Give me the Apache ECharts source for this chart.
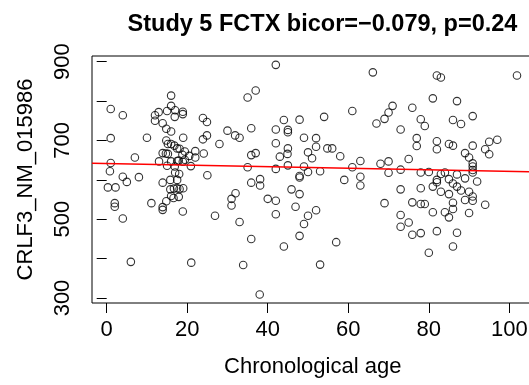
<!DOCTYPE html>
<html>
<head>
<meta charset="utf-8">
<script src="https://cdn.jsdelivr.net/npm/echarts@6/dist/echarts.min.js"></script>
<style>
html,body{margin:0;padding:0;background:#fff;}
#chart{width:529px;height:385px;}
</style>
</head>
<body>
<div id="chart"></div>
<script>
// ---- data ----
const ages = [1.0,1.0,1.0,0.8,0.3,2.2,2.0,2.0,4.0,4.0,5.0,4.0,6.0,7.0,8.0,10.0,11.1,12.0,12.0,12.9,13.0,13.9,13.9,13.9,13.9,13.9,14.7,15.0,14.8,14.8,15.0,14.8,15.2,15.2,16.0,16.0,16.0,16.0,16.0,15.8,15.8,16.0,16.8,16.9,17.0,16.9,17.0,16.7,16.6,17.5,17.5,17.5,17.5,17.9,18.1,17.9,18.0,18.1,18.9,18.9,19.0,18.8,18.9,19.0,18.9,19.4,19.4,20.9,20.5,21.0,22.0,22.0,23.9,23.9,24.1,24.9,24.9,25.0,26.9,28.0,30.0,31.9,33.0,31.0,31.0,32.0,33.0,33.9,35.0,35.0,35.9,35.9,35.9,35.9,37.0,37.0,38.1,38.1,38.0,40.0,42.0,42.0,42.0,42.0,42.0,42.0,43.0,44.0,44.0,45.0,45.0,45.0,44.9,45.0,45.9,46.9,47.9,47.9,47.9,47.9,47.9,49.0,49.0,49.0,50.0,50.0,50.0,51.0,52.0,52.0,52.0,53.0,53.0,54.0,54.8,56.0,57.0,58.0,59.0,61.0,61.0,63.0,63.0,63.0,66.1,67.0,68.0,69.0,69.0,70.0,70.0,70.0,71.0,73.0,73.0,73.0,73.0,73.0,75.0,75.0,75.9,75.9,75.9,77.0,77.0,78.0,78.0,78.0,78.0,78.0,79.0,79.0,80.0,80.0,81.0,81.0,81.0,82.0,82.0,82.0,82.0,82.0,82.0,83.0,83.0,83.0,84.0,84.0,85.0,85.0,85.0,85.0,86.0,86.0,86.0,86.0,86.0,86.0,87.0,87.0,87.0,87.0,88.0,88.0,89.0,89.0,89.0,90.0,90.0,90.0,90.9,90.9,90.9,90.9,90.9,90.9,90.9,90.9,92.0,94.0,94.0,95.0,95.0,97.0,101.9];
const values = [780,706,643,622,581,581,541,532,764,608,595,502,392,657,607,707,541,764,750,772,647,744,668,593,531,524,667,775,730,700,636,546,691,666,814,788,723,691,647,600,576,559,687,760,777,634,619,578,554,680,648,600,579,557,679,649,615,577,773,767,707,664,646,579,520,672,651,635,661,390,673,657,757,703,667,747,713,612,509,691,725,713,707,552,535,566,493,384,809,632,731,663,593,450,827,668,602,586,309,552,892,728,693,628,547,513,659,752,431,727,721,680,666,637,576,532,753,610,606,564,458,707,634,488,509,670,620,655,706,684,523,622,385,760,680,680,442,660,600,775,632,648,608,586,873,743,641,755,541,771,647,618,788,728,626,576,511,481,653,492,783,543,461,706,686,754,619,579,539,465,737,539,415,620,807,583,518,865,698,678,600,594,470,860,615,570,619,518,691,602,564,505,752,687,591,542,526,431,800,614,583,466,742,573,668,604,549,657,570,516,762,687,642,634,625,619,558,547,596,678,537,697,665,702,865];
const xTicks = [0, 20, 40, 60, 80, 100];
const yTicks = [300, 400, 500, 600, 700, 800, 900];
const yTickLabels = [300, 500, 700, 900];
const fitIntercept = 641.5;
const fitSlope = -0.2;
const xLimits = [-3.65, 106];
const yLimits = [287.6, 914.5];
const titleText = 'Study 5 FCTX bicor=\u22120.079, p=0.24';
const xName = 'Chronological age';
const yName = 'CRLF3_NM_015986';

const points = ages.map((a, i) => [a, values[i]]);
const fitLine = xLimits.map(x => [x, fitIntercept + fitSlope * x]);

const FONT = "'Liberation Sans', Arial, Helvetica, sans-serif";
const chart = echarts.init(document.getElementById('chart'), null, {renderer: 'canvas'});
chart.setOption({
  backgroundColor: '#ffffff',
  animation: false,
  title: {
    text: titleText,
    left: 317.5, top: 8, textAlign: 'center',
    textStyle: {fontFamily: FONT, fontSize: 23.5, fontWeight: 'bold', color: '#000'}
  },
  grid: [
    {left: 92, top: 56, right: -4.5, bottom: 82, show: true, borderColor: '#000', borderWidth: 1,
     backgroundColor: 'transparent', containLabel: false, outerBoundsMode: 'none'},
    {left: 106.7, top: 61.7, width: 402.6, height: 236.3, show: false, containLabel: false, outerBoundsMode: 'none'}
  ],
  xAxis: [
    {type: 'value', gridIndex: 0, min: xLimits[0], max: xLimits[1],
     axisLine: {show: false}, axisTick: {show: false}, axisLabel: {show: false}, splitLine: {show: false},
     name: xName, nameLocation: 'middle', nameGap: 53,
     nameTextStyle: {fontFamily: FONT, fontSize: 22, color: '#000'}},
    {type: 'value', gridIndex: 1, min: xTicks[0], max: xTicks[xTicks.length - 1], interval: 20,
     position: 'bottom', offset: 5,
     axisLine: {show: false},
     axisTick: {show: true, inside: false, length: 10, lineStyle: {color: '#000', width: 1}},
     axisLabel: {show: true, margin: 16, fontFamily: FONT, fontSize: 22, color: '#000',
       formatter: v => xTicks.includes(v) ? String(v) : ''},
     splitLine: {show: false}}
  ],
  yAxis: [
    {type: 'value', gridIndex: 0, min: yLimits[0], max: yLimits[1],
     axisLine: {show: false}, axisTick: {show: false}, axisLabel: {show: false}, splitLine: {show: false},
     name: yName, nameLocation: 'middle', nameGap: 55, nameRotate: 90,
     nameTextStyle: {fontFamily: FONT, fontSize: 22, color: '#000'}},
    {type: 'value', gridIndex: 1, min: yTicks[0], max: yTicks[yTicks.length - 1], interval: 100,
     position: 'left', offset: 14.7,
     axisLine: {show: false},
     axisTick: {show: true, inside: false, length: 10, lineStyle: {color: '#000', width: 1}},
     axisLabel: {show: true, margin: 18, rotate: 90, fontFamily: FONT, fontSize: 22, color: '#000',
       formatter: v => yTickLabels.includes(v) ? String(v) : ''},
     splitLine: {show: false}}
  ],
  series: [
    {type: 'scatter', xAxisIndex: 0, yAxisIndex: 0, data: points,
     symbol: 'circle', symbolSize: 7.5,
     itemStyle: {color: 'rgba(0,0,0,0)', borderColor: '#000', borderWidth: 1.1},
     emphasis: {disabled: true}, z: 3},
    {type: 'line', xAxisIndex: 0, yAxisIndex: 0, data: fitLine,
     symbol: 'none', lineStyle: {color: '#ff0000', width: 1.5}, z: 4, silent: true}
  ]
});
</script>
</body>
</html>
